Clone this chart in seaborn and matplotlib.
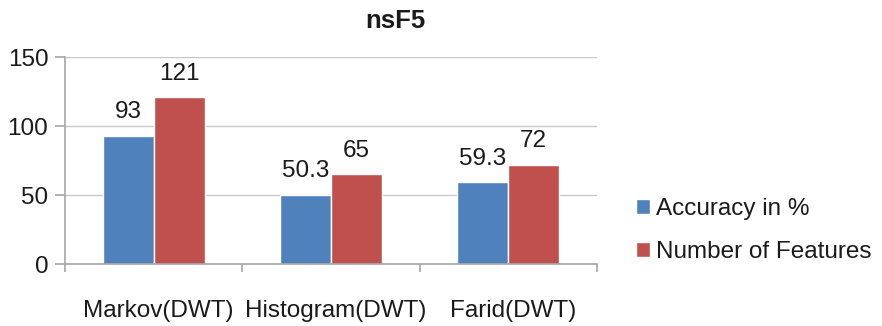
import matplotlib
matplotlib.use("Agg")
import matplotlib.pyplot as plt
import matplotlib.transforms as mtransforms
import pandas as pd
import seaborn as sns

categories = ["Markov(DWT)", "Histogram(DWT)", "Farid(DWT)"]
accuracy = [93, 50.3, 59.3]
n_features = [121, 65, 72]
series_names = ["Accuracy in %", "Number of Features"]
colors = ["#4F81BD", "#C0504D"]

df = pd.DataFrame({
    "method": categories * 2,
    "value": accuracy + n_features,
    "series": [series_names[0]] * 3 + [series_names[1]] * 3,
})

sns.set_style("white")
plt.rcParams["font.family"] = ["Liberation Sans", "DejaVu Sans"]
plt.rcParams["text.color"] = "#1a1a1a"
plt.rcParams["xtick.labelcolor"] = "#1a1a1a"
plt.rcParams["ytick.labelcolor"] = "#1a1a1a"

fig = plt.figure(figsize=(8.82, 3.26), dpi=100)
ax = fig.add_axes([0.0737, 0.19, 0.603, 0.635])

gray = "#A6A6A6"
ax.set_axisbelow(True)
ax.yaxis.grid(True, color="#C8C8C8", linewidth=1.0)

sns.barplot(data=df, x="method", y="value", hue="series", palette=colors,
            width=0.576, saturation=1, ax=ax, legend=True)

for cont in ax.containers:
    ax.bar_label(cont, fmt="%g", padding=9, fontsize=17.5)

ax.set_ylim(0, 150)
ax.set_xlim(-0.5, 2.5)
ax.set_yticks([0, 50, 100, 150])
ax.set_xlabel("")
ax.set_ylabel("")
fig.text(0.448, 0.935, "nsF5", fontsize=18.5, fontweight="bold", ha="center", va="center")

for side in ["top", "right"]:
    ax.spines[side].set_visible(False)
for side in ["left", "bottom"]:
    ax.spines[side].set_color(gray)
    ax.spines[side].set_linewidth(1.2)

ax.tick_params(axis="y", length=7, width=1.2, color=gray, labelsize=17.5, direction="out",
               left=True, pad=5)
ax.tick_params(axis="x", which="major", length=0, pad=26, labelsize=17.5)
ax.set_xticks([-0.5, 0.5, 1.5, 2.5], minor=True)
ax.tick_params(axis="x", which="minor", length=6, width=1.2, color=gray, direction="out", bottom=True)

# category labels sit a few pixels right of the group centre in the original
shift = mtransforms.ScaledTranslation(5 / 100, 0, fig.dpi_scale_trans)
for lbl in ax.get_xticklabels():
    lbl.set_transform(lbl.get_transform() + shift)

ax.legend(loc="center left", bbox_to_anchor=(1.032, 0.162), frameon=False,
          fontsize=17.5, handlelength=0.6, handleheight=0.6, handletextpad=0.25,
          labelspacing=0.85)

fig.savefig("out.png", dpi=100)
